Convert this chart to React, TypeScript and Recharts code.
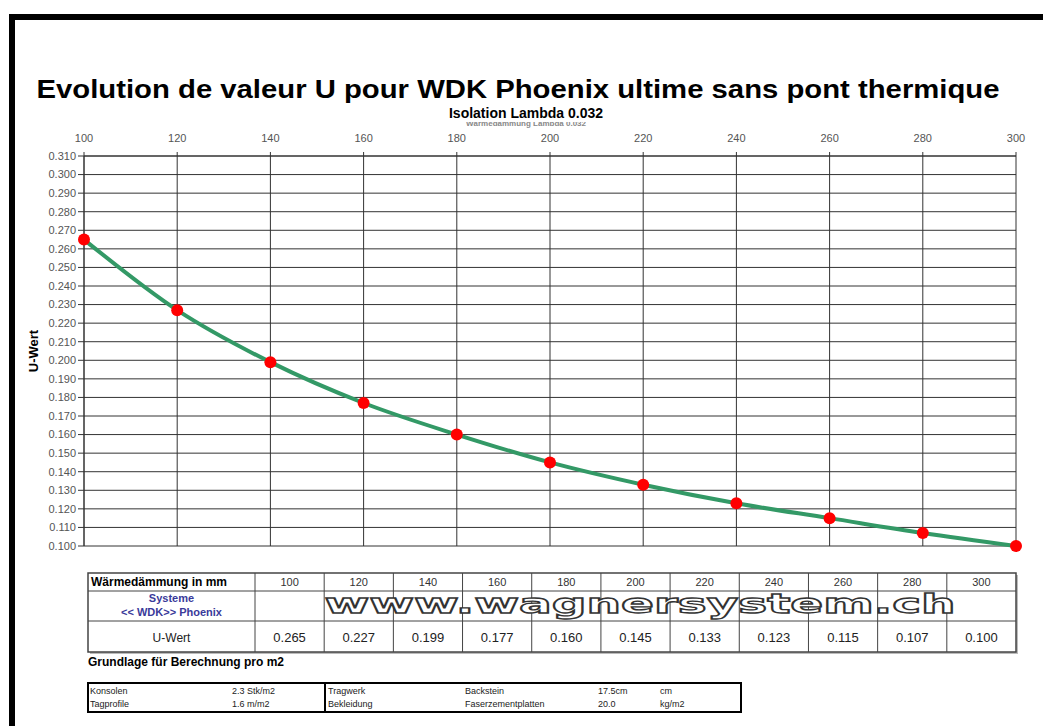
import { CartesianGrid, Line, LineChart, XAxis, YAxis } from "recharts";

const thickness = [100, 120, 140, 160, 180, 200, 220, 240, 260, 280, 300];
const uValues = [0.265, 0.227, 0.199, 0.177, 0.16, 0.145, 0.133, 0.123, 0.115, 0.107, 0.1];
const yTicks = [
  0.1, 0.11, 0.12, 0.13, 0.14, 0.15, 0.16, 0.17, 0.18, 0.19, 0.2, 0.21, 0.22, 0.23, 0.24, 0.25,
  0.26, 0.27, 0.28, 0.29, 0.3, 0.31,
];
const baseLeft = [
  ["Konsolen", "2.3 Stk/m2"],
  ["Tagprofile", "1.6 m/m2"],
];
const baseRight = [
  ["Tragwerk", "Backstein", "17.5cm", "cm"],
  ["Bekleidung", "Faserzementplatten", "20.0", "kg/m2"],
];

const chartData = thickness.map((mm, i) => ({ mm, u: uValues[i] }));

const font = "Arial, 'Liberation Sans', sans-serif";
const tickStyle = { fill: "#555", fontSize: 11, fontFamily: font };

// table geometry
const tX = 88;
const firstW = 167;
const tRight = 1016;
const colW = (tRight - tX - firstW) / thickness.length;
const rows = [573, 591, 621, 652];

function Overlay() {
  return (
    <svg width={1043} height={726} style={{ position: "absolute", left: 0, top: 0 }}>
      <rect x={9} y={14} width={1034} height={6} fill="#000" />
      <rect x={9} y={14} width={6} height={712} fill="#000" />

      <text x={518} y={98} textAnchor="middle" fontFamily={font} fontWeight="bold" fontSize={26}
        textLength={963} lengthAdjust="spacingAndGlyphs" fill="#000">
        Evolution de valeur U pour WDK Phoenix ultime sans pont thermique
      </text>
      <text x={526} y={126} textAnchor="middle" fontFamily={font} fontWeight="bold" fontSize={8}
        fill="#888">Wärmedämmung Lambda 0.032</text>
      <rect x={440} y={110} width={180} height={12} fill="#fff" />
      <text x={526} y={118} textAnchor="middle" fontFamily={font} fontWeight="bold" fontSize={14}
        fill="#000">Isolation Lambda 0.032</text>

      <text x={0} y={0} transform="translate(38 351) rotate(-90)" textAnchor="middle"
        fontFamily={font} fontWeight="bold" fontSize={13} fill="#000">U-Wert</text>

      {/* values table */}
      <g fontFamily={font} stroke="none">
        <rect x={tX + 2} y={rows[0] + 2} width={tRight - tX} height={rows[3] - rows[0]} fill="#bbb" />
        <rect x={tX} y={rows[0]} width={tRight - tX} height={rows[3] - rows[0]} fill="#fff"
          stroke="#444" strokeWidth={1.5} />
        {rows.slice(1, 3).map((y) => (
          <line key={y} x1={tX} x2={tRight} y1={y} y2={y} stroke="#444" />
        ))}
        {thickness.map((mm, i) => {
          const x = tX + firstW + i * colW;
          return (
            <g key={mm}>
              <line x1={x} x2={x} y1={rows[0]} y2={rows[3]} stroke="#444" />
              <text x={x + colW / 2} y={rows[0] + 13} textAnchor="middle" fontSize={11} fill="#333">
                {mm}
              </text>
              <text x={x + colW / 2} y={rows[2] + 21} textAnchor="middle" fontSize={13} fill="#222">
                {uValues[i].toFixed(3)}
              </text>
            </g>
          );
        })}
        <text x={tX + 3} y={rows[0] + 13} fontSize={12} fontWeight="bold" fill="#000">
          Wärmedämmung in mm
        </text>
        <text x={tX + firstW / 2} y={rows[1] + 11} textAnchor="middle" fontSize={11}
          fontWeight="bold" fill="#3a3a9a">Systeme</text>
        <text x={tX + firstW / 2} y={rows[1] + 25} textAnchor="middle" fontSize={11}
          fontWeight="bold" fill="#3a3a9a">{"<< WDK>> Phoenix"}</text>
        <text x={tX + firstW / 2} y={rows[2] + 21} textAnchor="middle" fontSize={12} fill="#222">
          U-Wert
        </text>
        <text x={640} y={rows[1] + 22} textAnchor="middle" fontFamily="'DejaVu Sans', sans-serif"
          fontSize={27} fontWeight="bold" textLength={631} lengthAdjust="spacingAndGlyphs" fill="#fff"
          stroke="#333" strokeWidth={1.3}>www.wagnersystem.ch</text>
      </g>

      <text x={tX} y={666} fontFamily={font} fontWeight="bold" fontSize={12} fill="#000">
        Grundlage für Berechnung pro m2
      </text>

      {/* base table */}
      <g fontFamily={font} fontSize={9} fill="#222">
        <rect x={tX} y={683} width={653} height={29} fill="#fff" stroke="#000" strokeWidth={2} />
        <line x1={325} x2={325} y1={683} y2={712} stroke="#000" strokeWidth={2} />
        {baseLeft.map((r, i) => (
          <g key={r[0]}>
            <text x={90} y={694 + i * 13}>{r[0]}</text>
            <text x={232} y={694 + i * 13}>{r[1]}</text>
          </g>
        ))}
        {baseRight.map((r, i) => (
          <g key={r[0]}>
            <text x={328} y={694 + i * 13}>{r[0]}</text>
            <text x={465} y={694 + i * 13}>{r[1]}</text>
            <text x={598} y={694 + i * 13}>{r[2]}</text>
            <text x={660} y={694 + i * 13}>{r[3]}</text>
          </g>
        ))}
      </g>
    </svg>
  );
}

export default function App() {
  return (
    <div style={{ position: "fixed", left: 0, top: 0, width: 1043, height: 726, background: "#fff" }}>
      <Overlay />
      <div style={{ position: "absolute", left: 0, top: 0 }}>
        <LineChart width={1043} height={726} data={chartData}
          margin={{ top: 136, right: 27, bottom: 180, left: 34 }}>
          <CartesianGrid stroke="#333" strokeWidth={1} />
          <XAxis dataKey="mm" type="number" orientation="top" domain={[100, 300]} ticks={thickness}
            interval={0} height={20} tick={tickStyle} tickSize={4} tickMargin={10}
            axisLine={{ stroke: "#333" }} tickLine={{ stroke: "#333" }} />
          <YAxis type="number" domain={[0.1, 0.31]} ticks={yTicks} interval={0} width={50}
            tick={tickStyle} tickSize={6} tickMargin={2}
            tickFormatter={(v: number) => v.toFixed(3)}
            axisLine={{ stroke: "#333" }} tickLine={{ stroke: "#333" }} />
          <Line type="monotone" dataKey="u" stroke="#339966" strokeWidth={4}
            dot={{ r: 6, fill: "#ff0000", stroke: "none" }} isAnimationActive={false} />
        </LineChart>
      </div>
    </div>
  );
}
